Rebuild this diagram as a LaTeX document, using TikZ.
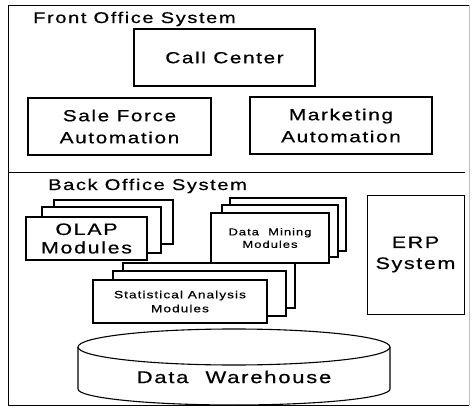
\documentclass[tikz,border=0pt]{standalone}
\usepackage{fontspec}
\newfontfamily\wf[FakeStretch=1.3,LetterSpace=10,FakeBold=0.6]{Liberation Sans}
\newcommand\fs[2]{\wf\fontsize{#1}{#2}\selectfont}
\begin{document}
\begin{tikzpicture}[x=1pt,y=-1pt,
  box/.style={draw, line width=1.1pt, fill=white, inner sep=0pt, align=center},
  layer/.style={draw, line width=1.1pt, fill=white},
  title/.style={anchor=west, inner sep=0pt}]
\useasboundingbox (0,0) rectangle (472,412);
% outer frame
\draw[line width=0.8pt] (469,5) -- (8,5) -- (8,405) -- (469,405);
\draw[line width=0.5pt, black!25] (469,5) -- (469,405);
\draw[line width=0.8pt] (8,172) -- (465,172);
\node[title, font={\fs{15.5}{19}}] (fos) at (33,19) {Front Office System};
\node[title, font={\fs{15.5}{19}}] (bos) at (48,186) {Back Office System};
% front office
\node[box, minimum width=181pt, minimum height=57pt, font={\fs{16}{22}}] (cc) at (224.5,57.5) {Call Center};
\node[box, minimum width=183pt, minimum height=57pt, font={\fs{16}{22}}] (sfa) at (119.5,126.5) {Sale Force\\Automation};
\node[box, minimum width=182pt, minimum height=57pt, font={\fs{16}{22}}] (ma) at (341,125.5) {Marketing\\Automation};
% OLAP stack
\draw[layer] (54,200) rectangle (173,244);
\draw[layer] (42,207) rectangle (161,253);
\node[box, minimum width=121pt, minimum height=43pt, font={\fs{16.5}{18.5}}] (olap) at (86.5,238.5) {OLAP\\Modules};
% Data mining stack
\draw[layer] (230,198) rectangle (346,251);
\draw[layer] (222,205) rectangle (338,257);
\node[box, minimum width=118pt, minimum height=50pt, font={\fs{10}{12.5}}] (dm) at (270,238) {Data~~Mining\\Modules};
% ERP
\node[draw, line width=0.7pt, inner sep=0pt, align=center, minimum width=97pt, minimum height=119pt, font={\fs{16.5}{21}}] (erp) at (415.5,254.5) {ERP\\System};
% Statistical stack
\draw[layer] (123,263) rectangle (295,308);
\draw[layer] (113,271) rectangle (286,316);
\node[box, minimum width=174pt, minimum height=43pt, font={\fs{10.5}{14}}] (sa) at (180,301.5) {Statistical Analysis\\Modules};
% Data warehouse cylinder
\draw[line width=1.1pt, fill=white] (78,347) -- (78,389) arc[start angle=180, end angle=360, x radius=156pt, y radius=16pt] -- (390,347);
\draw[line width=1.1pt, fill=white] (234,347) ellipse [x radius=156pt, y radius=18pt];
\node[inner sep=0pt, font={\fs{17}{20}}] (dw) at (234,377) {Data\quad Warehouse};
\end{tikzpicture}
\end{document}
